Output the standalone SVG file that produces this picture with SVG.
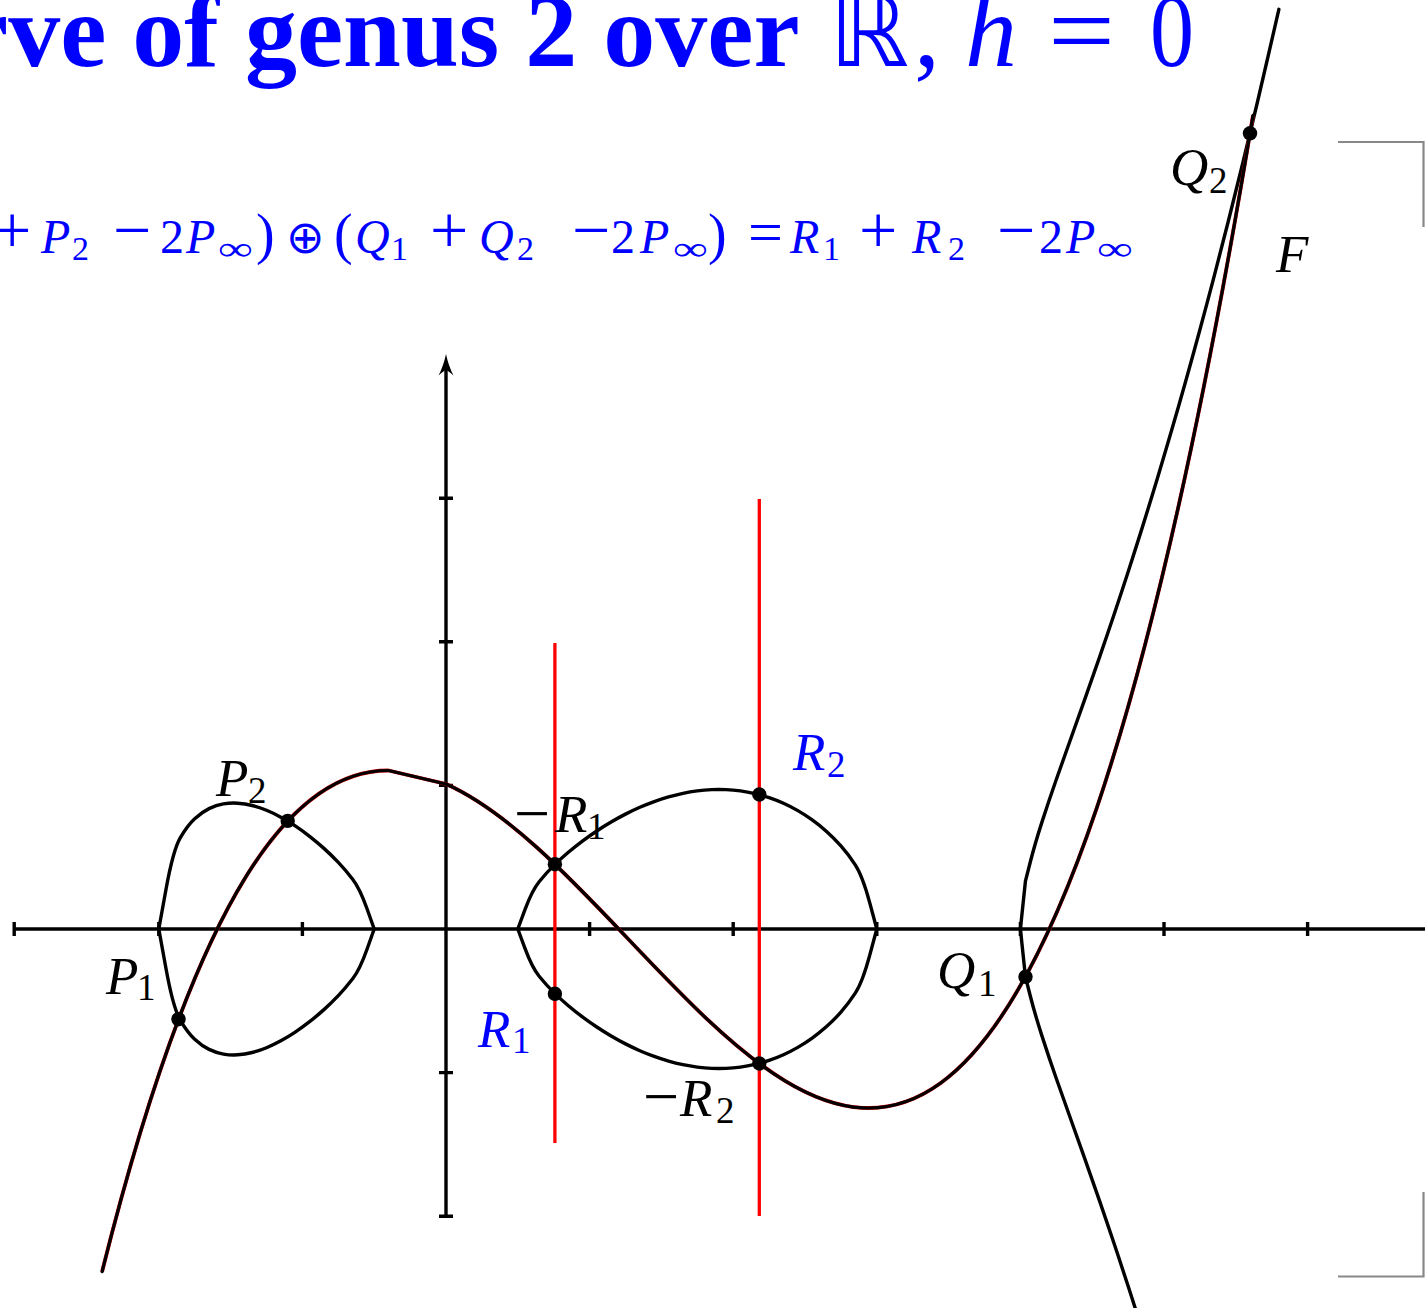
<svg xmlns="http://www.w3.org/2000/svg" width="1425" height="1308" viewBox="0 0 1425 1308">
<style>
.ax{fill:none;stroke:#000;stroke-width:3.4}
.cv{fill:none;stroke:#000;stroke-width:3.4;stroke-linejoin:round;stroke-linecap:round}
.fr{fill:none;stroke:#d00000;stroke-width:3.8;stroke-linejoin:round}
.rl{fill:none;stroke:#ff0000;stroke-width:3.3}
.br{fill:none;stroke:#888;stroke-width:2.2}
.dot{fill:#000}
.mi{font-family:"Liberation Serif",serif;font-style:italic;font-size:53px}
.sb{font-family:"Liberation Serif",serif;font-size:37px}
.op{font-family:"Liberation Serif",serif;font-size:64px}
.fi{font-family:"Liberation Serif",serif;font-style:italic;font-size:48px}
.fs{font-family:"Liberation Serif",serif;font-size:34px}
.fo{font-family:"Liberation Serif",serif;font-size:68px}
.fp{font-family:"Liberation Serif",serif;font-size:56px}
.fd{font-family:"Liberation Serif",serif;font-size:48px}
.blue{fill:#0000ff}
.blk{fill:#000}
</style>
<rect width="1425" height="1308" fill="#fff"/>

<g id="title" class="blue">
<text x="-38" y="66" font-family="Liberation Serif, serif" font-weight="bold" font-size="104">rve of genus 2 over</text>
<text x="829" y="66" font-family="DejaVu Sans, sans-serif" font-size="100" textLength="80" lengthAdjust="spacingAndGlyphs">ℝ</text>
<text x="914" y="66" font-family="Liberation Serif, serif" font-size="104">,</text>
<text x="965" y="66" font-family="Liberation Serif, serif" font-style="italic" font-size="104">h</text>
<text x="1048" y="66" font-family="Liberation Serif, serif" font-size="104" textLength="67" lengthAdjust="spacingAndGlyphs">=</text>
<text x="1150" y="66" font-family="Liberation Serif, serif" font-size="104" textLength="44" lengthAdjust="spacingAndGlyphs">0</text>
</g>

<g id="formula" class="blue">
<text class="fo" x="-7" y="253">+</text>
<text class="fi" x="41" y="253">P</text>
<text class="fs" x="72" y="260">2</text>
<text class="fo" x="113" y="253">−</text>
<text class="fd" x="160" y="253">2</text>
<text class="fi" x="186" y="253">P</text>
<text class="fs" x="218" y="260" textLength="35" lengthAdjust="spacingAndGlyphs">∞</text>
<text class="fp" x="256" y="253">)</text>
<text x="286" y="253" font-family="DejaVu Sans, sans-serif" font-size="46">⊕</text>
<text class="fp" x="334" y="253">(</text>
<text class="fi" x="355" y="253">Q</text>
<text class="fs" x="391" y="260">1</text>
<text class="fo" x="430" y="253">+</text>
<text class="fi" x="479" y="253">Q</text>
<text class="fs" x="517" y="260">2</text>
<text class="fo" x="572" y="253">−</text>
<text class="fd" x="611" y="253">2</text>
<text class="fi" x="640" y="253">P</text>
<text class="fs" x="673" y="260" textLength="35" lengthAdjust="spacingAndGlyphs">∞</text>
<text class="fp" x="708" y="253">)</text>
<text x="748" y="253" font-family="Liberation Serif, serif" font-size="62">=</text>
<text class="fi" x="790" y="253">R</text>
<text class="fs" x="823" y="260">1</text>
<text class="fo" x="859" y="253">+</text>
<text class="fi" x="912" y="253">R</text>
<text class="fs" x="948" y="260">2</text>
<text class="fo" x="997" y="253">−</text>
<text class="fd" x="1039" y="253">2</text>
<text class="fi" x="1066" y="253">P</text>
<text class="fs" x="1097" y="260" textLength="36" lengthAdjust="spacingAndGlyphs">∞</text>
</g>

<g id="brackets">
<path class="br" d="M1338,142 H1423.5 V227"/>
<path class="br" d="M1423.5,1192 V1276.5 H1338"/>
</g>

<g id="axes">
<path class="ax" d="M14.2,929 H1430"/>
<path class="ax" d="M446,1216.2 V369"/>
<path d="M446,354 Q448.5,366 453.5,375.5 Q448,370.5 446,370 Q444,370.5 438.5,375.5 Q443.5,366 446,354 Z" fill="#000"/>
<path class="ax" d="M14.2,922 V936 M158.8,922 V936 M302.4,922 V936 M589.6,922 V936 M733.2,922 V936 M876.8,922 V936 M1020.4,922 V936 M1164,922 V936 M1307.6,922 V936"/>
<path class="ax" d="M439,498.2 H453 M439,641.8 H453 M439,785.4 H453 M439,1072.6 H453 M439,1216.2 H453"/>
</g>

<g id="curve-C">
<path class="cv" d="M158.8,929 L165.98,889.44 Q173.16,849.88 180.34,837.65 Q187.52,825.42 194.7,818.75 Q201.88,812.07 209.06,808.61 Q216.24,805.15 223.42,803.93 Q230.6,802.71 237.78,803.19 Q244.96,803.66 252.14,805.5 Q259.32,807.33 266.5,810.29 Q273.68,813.25 280.86,817.18 Q288.04,821.1 295.22,825.89 Q302.4,830.68 309.58,836.29 Q316.76,841.9 323.94,848.37 Q331.12,854.83 338.3,862.35 Q345.48,869.87 352.66,879.17 Q359.84,888.46 367.02,908.73 L374.2,929 L367.02,949.27 Q359.84,969.54 352.66,978.83 Q345.48,988.13 338.3,995.65 Q331.12,1003.17 323.94,1009.63 Q316.76,1016.1 309.58,1021.71 Q302.4,1027.32 295.22,1032.11 Q288.04,1036.9 280.86,1040.82 Q273.68,1044.75 266.5,1047.71 Q259.32,1050.67 252.14,1052.5 Q244.96,1054.34 237.78,1054.81 Q230.6,1055.29 223.42,1054.07 Q216.24,1052.85 209.06,1049.39 Q201.88,1045.93 194.7,1039.25 Q187.52,1032.58 180.34,1020.35 Q173.16,1008.12 165.98,968.56 L158.8,929 Z"/>
<path class="cv" d="M517.8,929 L524.98,909.61 Q532.16,890.22 539.34,881.46 Q546.52,872.7 553.7,865.66 Q560.88,858.62 568.06,852.54 Q575.24,846.46 582.42,841.1 Q589.6,835.73 596.78,830.97 Q603.96,826.21 611.14,822 Q618.32,817.79 625.5,814.12 Q632.68,810.44 639.86,807.3 Q647.04,804.16 654.22,801.55 Q661.4,798.94 668.58,796.88 Q675.76,794.81 682.94,793.31 Q690.12,791.81 697.3,790.89 Q704.48,789.97 711.66,789.66 Q718.84,789.34 726.02,789.65 Q733.2,789.96 740.38,790.94 Q747.56,791.91 754.74,793.58 Q761.92,795.25 769.1,797.67 Q776.28,800.09 783.46,803.31 Q790.64,806.53 797.82,810.65 Q805,814.77 812.18,819.91 Q819.36,825.05 826.54,831.43 Q833.72,837.81 840.9,845.88 Q848.08,853.94 855.26,864.85 Q862.44,875.76 869.62,902.38 L876.8,929 L869.62,955.62 Q862.44,982.24 855.26,993.15 Q848.08,1004.06 840.9,1012.12 Q833.72,1020.19 826.54,1026.57 Q819.36,1032.95 812.18,1038.09 Q805,1043.23 797.82,1047.35 Q790.64,1051.47 783.46,1054.69 Q776.28,1057.91 769.1,1060.33 Q761.92,1062.75 754.74,1064.42 Q747.56,1066.09 740.38,1067.06 Q733.2,1068.04 726.02,1068.35 Q718.84,1068.66 711.66,1068.34 Q704.48,1068.03 697.3,1067.11 Q690.12,1066.19 682.94,1064.69 Q675.76,1063.19 668.58,1061.12 Q661.4,1059.06 654.22,1056.45 Q647.04,1053.84 639.86,1050.7 Q632.68,1047.56 625.5,1043.88 Q618.32,1040.21 611.14,1036 Q603.96,1031.79 596.78,1027.03 Q589.6,1022.27 582.42,1016.9 Q575.24,1011.54 568.06,1005.46 Q560.88,999.38 553.7,992.34 Q546.52,985.3 539.34,976.54 Q532.16,967.78 524.98,948.39 L517.8,929 Z"/>
<path class="cv" d="M1149.64,1354.04 L1142.46,1331.13 Q1135.28,1308.22 1128.1,1286.1 Q1120.92,1263.98 1113.74,1242.58 Q1106.56,1221.19 1099.38,1200.42 Q1092.2,1179.66 1085.02,1159.37 Q1077.84,1139.08 1070.66,1119.01 Q1063.48,1098.94 1056.3,1078.53 Q1049.12,1058.13 1041.94,1035.87 Q1034.76,1013.62 1030.1,995.21 L1025.43,976.8 L1020.4,929 L1025.43,881.2 L1030.1,862.79 Q1034.76,844.38 1041.94,822.13 Q1049.12,799.87 1056.3,779.47 Q1063.48,759.06 1070.66,738.99 Q1077.84,718.92 1085.02,698.63 Q1092.2,678.34 1099.38,657.58 Q1106.56,636.81 1113.74,615.42 Q1120.92,594.02 1128.1,571.9 Q1135.28,549.78 1142.46,526.87 Q1149.64,503.96 1156.82,480.22 Q1164,456.47 1171.18,431.85 Q1178.36,407.22 1185.54,381.69 Q1192.72,356.16 1199.9,329.7 Q1207.08,303.23 1214.26,275.82 Q1221.44,248.4 1228.62,220.02 Q1235.8,191.63 1242.98,162.25 Q1250.16,132.87 1257.34,102.49 Q1264.52,72.1 1271.7,40.7 L1278.88,9.29"/>
</g>

<g id="curve-F">
<path class="fr" d="M102.08,1271.68 C197.57,889.54 293.07,770.15 388.56,770.49 L446,783.98 C715.01,904 984.02,1746.68 1253.03,115.26"/>
<path class="cv" style="stroke-width:3.2" d="M102.08,1271.68 C197.57,889.54 293.07,770.15 388.56,770.49 L446,783.98 C715.01,904 984.02,1746.68 1253.03,115.26"/>
</g>

<g id="verticals">
<path class="rl" d="M554.9,643 V1143"/>
<path class="rl" d="M759.3,499 V1216"/>
</g>

<g id="P1"><circle class="dot" cx="178.5" cy="1019.2" r="7.2"/>
<text class="mi blk" x="106" y="994">P</text><text class="sb blk" x="137" y="1000">1</text></g>
<g id="P2"><circle class="dot" cx="287.7" cy="820.9" r="7.2"/>
<text class="mi blk" x="216" y="796">P</text><text class="sb blk" x="248" y="803">2</text></g>
<g id="minusR1"><circle class="dot" cx="554.9" cy="864.2" r="7.2"/>
<text class="op blk" x="514" y="835">−</text><text class="mi blk" x="555" y="832">R</text><text class="sb blk" x="587" y="839">1</text></g>
<g id="R1"><circle class="dot" cx="554.9" cy="993.8" r="7.2"/>
<text class="mi blue" x="478" y="1047">R</text><text class="sb blue" x="512" y="1053">1</text></g>
<g id="R2"><circle class="dot" cx="759.3" cy="794.5" r="7.2"/>
<text class="mi blue" x="793" y="770">R</text><text class="sb blue" x="827" y="777">2</text></g>
<g id="minusR2"><circle class="dot" cx="759.3" cy="1063.5" r="7.2"/>
<text class="op blk" x="643" y="1118">−</text><text class="mi blk" x="680" y="1116">R</text><text class="sb blk" x="716" y="1123">2</text></g>
<g id="Q1"><circle class="dot" cx="1025.5" cy="976.8" r="7.2"/>
<text class="mi blk" x="937" y="988">Q</text><text class="sb blk" x="978" y="996">1</text></g>
<g id="Q2"><circle class="dot" cx="1250" cy="133.3" r="7.2"/>
<text class="mi blk" x="1170" y="185">Q</text><text class="sb blk" x="1209" y="193">2</text></g>
<g id="F"><text class="mi blk" x="1276" y="272">F</text></g>
</svg>
